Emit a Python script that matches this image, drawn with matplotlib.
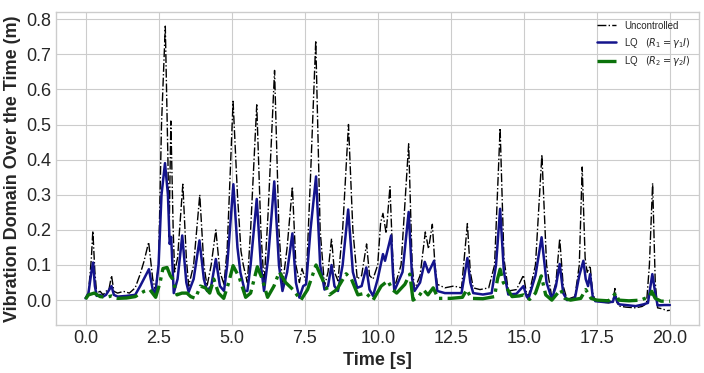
import matplotlib
matplotlib.use("Agg")
import matplotlib.pyplot as plt
from matplotlib.ticker import MultipleLocator

# Uncontrolled response
t_unc = [0.0, 0.1, 0.2, 0.25, 0.32, 0.38, 0.5, 0.6, 0.7, 0.8, 0.89, 0.97, 1.1, 1.3, 1.5, 1.7,
         1.87, 2.0, 2.16, 2.3, 2.39, 2.5, 2.6, 2.73, 2.82, 2.86, 2.92, 3.0, 3.05, 3.15, 3.33,
         3.45, 3.53, 3.7, 3.91, 4.05, 4.16, 4.3, 4.46, 4.6, 4.74, 4.85, 5.05, 5.2, 5.32, 5.4,
         5.54, 5.65, 5.86, 6.0, 6.11, 6.25, 6.47, 6.62, 6.74, 6.9, 7.08, 7.2, 7.32, 7.41, 7.55,
         7.7, 7.88, 8.03, 8.18, 8.3, 8.42, 8.52, 8.64, 8.8, 9.0, 9.15, 9.3, 9.45, 9.62, 9.72,
         9.84, 10.0, 10.1, 10.18, 10.29, 10.42, 10.5, 10.57, 10.8, 11.06, 11.18, 11.26, 11.45,
         11.63, 11.74, 11.87, 11.96, 12.04, 12.3, 12.6, 12.87, 13.07, 13.17, 13.27, 13.5, 13.8,
         14.0, 14.19, 14.32, 14.47, 14.75, 14.99, 15.08, 15.16, 15.4, 15.62, 15.78, 15.96, 16.1,
         16.23, 16.35, 16.48, 16.75, 16.9, 17.0, 17.1, 17.17, 17.27, 17.36, 17.45, 17.7, 17.9,
         18.05, 18.12, 18.18, 18.26, 18.5, 18.83, 19.05, 19.2, 19.3, 19.41, 19.5, 19.58, 19.75,
         19.9, 20.0]
y_unc = [0.005, 0.02, 0.12, 0.197, 0.08, 0.02, 0.025, 0.015, 0.025, 0.03, 0.07, 0.025, 0.02,
         0.025, 0.02, 0.035, 0.074, 0.11, 0.165, 0.06, 0.03, 0.1, 0.5, 0.78, 0.4, 0.18, 0.51,
         0.2, 0.08, 0.12, 0.33, 0.12, 0.04, 0.1, 0.30, 0.1, 0.04, 0.1, 0.20, 0.08, 0.045, 0.15,
         0.566, 0.3, 0.14, 0.1, 0.05, 0.2, 0.556, 0.2, 0.045, 0.25, 0.654, 0.2, 0.04, 0.15,
         0.323, 0.1, 0.05, 0.09, 0.05, 0.35, 0.739, 0.2, 0.04, 0.08, 0.175, 0.08, 0.055, 0.2,
         0.50, 0.2, 0.06, 0.07, 0.16, 0.07, 0.06, 0.1, 0.22, 0.247, 0.19, 0.323, 0.15, 0.035,
         0.1, 0.445, 0.1, 0.03, 0.07, 0.194, 0.146, 0.216, 0.1, 0.045, 0.035, 0.04, 0.035,
         0.218, 0.08, 0.035, 0.03, 0.035, 0.1, 0.49, 0.12, 0.026, 0.03, 0.071, 0.025, 0.01,
         0.1, 0.414, 0.1, 0.007, 0.05, 0.175, 0.04, 0.002, 0.01, 0.1, 0.379, 0.12, 0.079,
         0.098, 0.02, -0.003, -0.005, -0.008, -0.005, 0.033, -0.005, -0.017, -0.02, -0.022,
         -0.018, -0.01, 0.1, 0.333, 0.05, -0.022, -0.025, -0.03, -0.029]

# LQ controller, R1 = gamma1 I
t_lq1 = [0.0, 0.1, 0.2, 0.26, 0.32, 0.38, 0.5, 0.6, 0.7, 0.89, 0.97, 1.1, 1.4, 1.7, 1.87, 2.17,
         2.3, 2.39, 2.5, 2.6, 2.72, 2.82, 2.88, 2.93, 3.02, 3.15, 3.31, 3.45, 3.53, 3.7, 3.9,
         4.05, 4.16, 4.3, 4.46, 4.6, 4.74, 4.85, 5.06, 5.2, 5.3, 5.45, 5.54, 5.65, 5.86, 6.0,
         6.11, 6.25, 6.46, 6.62, 6.74, 6.9, 7.08, 7.2, 7.32, 7.45, 7.55, 7.7, 7.89, 8.03, 8.18,
         8.3, 8.42, 8.52, 8.64, 8.8, 8.99, 9.15, 9.3, 9.45, 9.61, 9.72, 9.84, 10.0, 10.18,
         10.25, 10.46, 10.52, 10.57, 10.85, 11.06, 11.18, 11.26, 11.45, 11.61, 11.74, 11.93,
         12.04, 12.3, 12.6, 12.87, 13.07, 13.17, 13.27, 13.6, 13.9, 14.05, 14.19, 14.32, 14.47,
         14.75, 14.99, 15.1, 15.16, 15.4, 15.61, 15.78, 15.96, 16.1, 16.23, 16.35, 16.48, 16.75,
         16.9, 17.04, 17.12, 17.2, 17.27, 17.36, 17.45, 17.8, 18.05, 18.12, 18.2, 18.26, 18.6,
         18.83, 19.1, 19.25, 19.32, 19.4, 19.5, 19.58, 19.8, 20.0]
y_lq1 = [0.005, 0.02, 0.08, 0.107, 0.04, 0.012, 0.015, 0.01, 0.015, 0.04, 0.015, 0.01, 0.012,
         0.015, 0.04, 0.088, 0.03, 0.019, 0.1, 0.3, 0.39, 0.3, 0.16, 0.18, 0.02, 0.06, 0.184,
         0.05, 0.023, 0.06, 0.17, 0.06, 0.026, 0.04, 0.117, 0.04, 0.026, 0.1, 0.33, 0.15, 0.079,
         0.026, 0.026, 0.1, 0.288, 0.1, 0.026, 0.12, 0.338, 0.1, 0.026, 0.08, 0.19, 0.05, 0.007,
         0.04, 0.045, 0.2, 0.352, 0.1, 0.03, 0.04, 0.1, 0.04, 0.026, 0.1, 0.258, 0.08, 0.035,
         0.04, 0.093, 0.03, 0.012, 0.06, 0.131, 0.112, 0.184, 0.08, 0.026, 0.08, 0.251, 0.06,
         0.026, 0.05, 0.109, 0.079, 0.112, 0.026, 0.02, 0.02, 0.02, 0.12, 0.05, 0.02, 0.016,
         0.02, 0.1, 0.26, 0.08, 0.016, 0.018, 0.04, 0.01, 0.004, 0.07, 0.179, 0.05, 0.003, 0.04,
         0.103, 0.02, 0.0, 0.005, 0.07, 0.112, 0.06, 0.04, 0.074, 0.01, -0.003, -0.006, -0.005,
         0.016, -0.005, -0.012, -0.015, -0.017, -0.012, -0.008, 0.03, 0.074, 0.02, -0.015,
         -0.014, -0.014]

# LQ controller, R2 = gamma2 I
t_lq2 = [0.0, 0.1, 0.3, 0.5, 0.7, 0.9, 1.1, 1.4, 1.7, 2.0, 2.2, 2.4, 2.55, 2.65, 2.79, 2.9,
         2.98, 3.13, 3.3, 3.47, 3.6, 3.76, 3.93, 4.1, 4.25, 4.39, 4.55, 4.73, 4.9, 5.05, 5.26,
         5.48, 5.65, 5.88, 6.05, 6.23, 6.45, 6.63, 6.85, 7.1, 7.37, 7.6, 7.89, 8.05, 8.35, 8.6,
         8.92, 9.1, 9.32, 9.6, 9.84, 10.12, 10.35, 10.5, 10.65, 10.93, 11.1, 11.21, 11.4, 11.56,
         11.72, 11.9, 12.07, 12.5, 12.9, 13.05, 13.2, 13.6, 14.0, 14.1, 14.19, 14.3, 14.45, 14.6,
         14.85, 15.0, 15.2, 15.4, 15.6, 15.75, 15.96, 16.26, 16.4, 16.6, 16.95, 17.12, 17.3,
         17.5, 17.9, 18.15, 18.25, 18.6, 19.0, 19.3, 19.38, 19.5, 19.7, 20.0]
y_lq2 = [0.003, 0.015, 0.02, 0.01, 0.008, 0.012, 0.005, 0.006, 0.01, 0.025, 0.03, 0.008, 0.05,
         0.09, 0.093, 0.07, 0.06, 0.015, 0.02, 0.02, 0.01, 0.005, 0.04, 0.035, 0.02, 0.06, 0.02,
         0.005, 0.05, 0.098, 0.065, 0.008, 0.02, 0.095, 0.06, 0.008, 0.04, 0.08, 0.05, 0.03, 0.0,
         0.03, 0.1, 0.07, 0.015, 0.03, 0.075, 0.06, 0.015, 0.02, 0.0, 0.04, 0.055, 0.03, 0.02,
         0.045, 0.074, 0.0, 0.01, 0.03, 0.015, 0.035, 0.005, 0.005, 0.008, 0.03, 0.005, 0.004,
         0.01, 0.06, 0.088, 0.05, 0.03, 0.01, 0.012, 0.015, 0.002, 0.02, 0.069, 0.015, 0.0, 0.03,
         0.005, 0.0, 0.005, 0.03, 0.005, 0.0, -0.002, 0.02, 0.0, -0.002, 0.0, 0.01, 0.025, 0.005,
         -0.003, -0.003]

plt.style.use("seaborn-v0_8-whitegrid")
plt.rcParams["font.family"] = ["Liberation Sans", "DejaVu Sans"]

fig = plt.figure(figsize=(7.04, 3.73), dpi=100)
ax = fig.add_axes([0.08, 0.129, 0.913, 0.839])

ax.plot(t_unc, y_unc, color="k", linestyle="-.", linewidth=1.0, label="Uncontrolled")
ax.plot(t_lq1, y_lq1, color="#14148c", linestyle="-", linewidth=1.8,
        label=r"LQ   $(R_1 = \gamma_1 I)$")
ax.plot(t_lq2, y_lq2, color="#0b720b", linestyle="-.", linewidth=2.4,
        label=r"LQ   $(R_2 = \gamma_2 I)$")

ax.yaxis.set_major_locator(MultipleLocator(0.1))
ax.set_xlabel("Time [s]", fontsize=13, fontweight="bold")
ax.set_ylabel("Vibration Domain Over the Time (m)", fontsize=13, fontweight="bold")
ax.tick_params(labelsize=13)
ax.legend(loc="upper right", fontsize=7)

fig.savefig("out.png", dpi=100)
plt.close(fig)
